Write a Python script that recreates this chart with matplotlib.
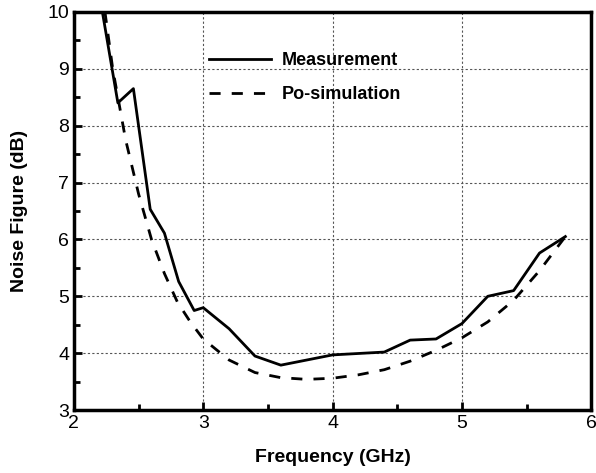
import matplotlib
matplotlib.use('Agg')
import matplotlib.pyplot as plt
from matplotlib.ticker import MultipleLocator

plt.rcParams['font.family'] = ['Liberation Sans', 'DejaVu Sans']

meas_f = [2.22, 2.34, 2.46, 2.59, 2.70, 2.81, 2.93, 3.0, 3.2, 3.4, 3.6,
          4.0, 4.4, 4.6, 4.8, 5.0, 5.2, 5.4, 5.6, 5.8]
meas_nf = [10.0, 8.40, 8.65, 6.53, 6.11, 5.26, 4.75, 4.80, 4.43, 3.95, 3.79,
           3.97, 4.02, 4.23, 4.25, 4.52, 5.0, 5.10, 5.76, 6.05]

sim_f = [2.24, 2.3, 2.4, 2.5, 2.6, 2.7, 2.8, 2.9, 3.0, 3.2, 3.4, 3.6, 3.8,
         4.0, 4.2, 4.4, 4.6, 4.8, 5.0, 5.2, 5.4, 5.6, 5.8]
sim_nf = [10.0, 9.0, 7.75, 6.8, 6.0, 5.4, 4.9, 4.55, 4.25, 3.88, 3.66, 3.57,
          3.54, 3.56, 3.62, 3.71, 3.86, 4.05, 4.27, 4.55, 4.93, 5.45, 6.05]

fig = plt.figure(figsize=(5.96, 4.73), dpi=100)
ax = fig.add_axes([0.124, 0.133, 0.868, 0.842])

ax.plot(meas_f, meas_nf, color='black', lw=2, label='Measurement')
ax.plot(sim_f, sim_nf, color='black', lw=2, dashes=(4, 4),
        label='Po-simulation')

ax.set_xlim(2, 6)
ax.set_ylim(3, 10)
ax.xaxis.set_major_locator(MultipleLocator(1))
ax.xaxis.set_minor_locator(MultipleLocator(0.5))
ax.yaxis.set_major_locator(MultipleLocator(1))
ax.yaxis.set_minor_locator(MultipleLocator(0.5))
ax.tick_params(which='both', direction='in', width=2, labelsize=14)
ax.tick_params(which='major', length=6)
ax.tick_params(which='minor', length=4)
ax.grid(True, which='major', color='#555555', ls=(0, (2, 2)), lw=0.8)
for s in ax.spines.values():
    s.set_linewidth(2.5)

ax.set_xlabel('Frequency (GHz)', fontsize=14, fontweight='bold', labelpad=12)
ax.set_ylabel('Noise Figure (dB)', fontsize=14, fontweight='bold',
              labelpad=14)

ax.legend(loc='upper left', bbox_to_anchor=(0.23, 0.94), frameon=False,
          handlelength=3.4, handletextpad=0.6, labelspacing=0.95,
          prop={'weight': 'bold', 'size': 13})

fig.savefig('out.png', dpi=100)
